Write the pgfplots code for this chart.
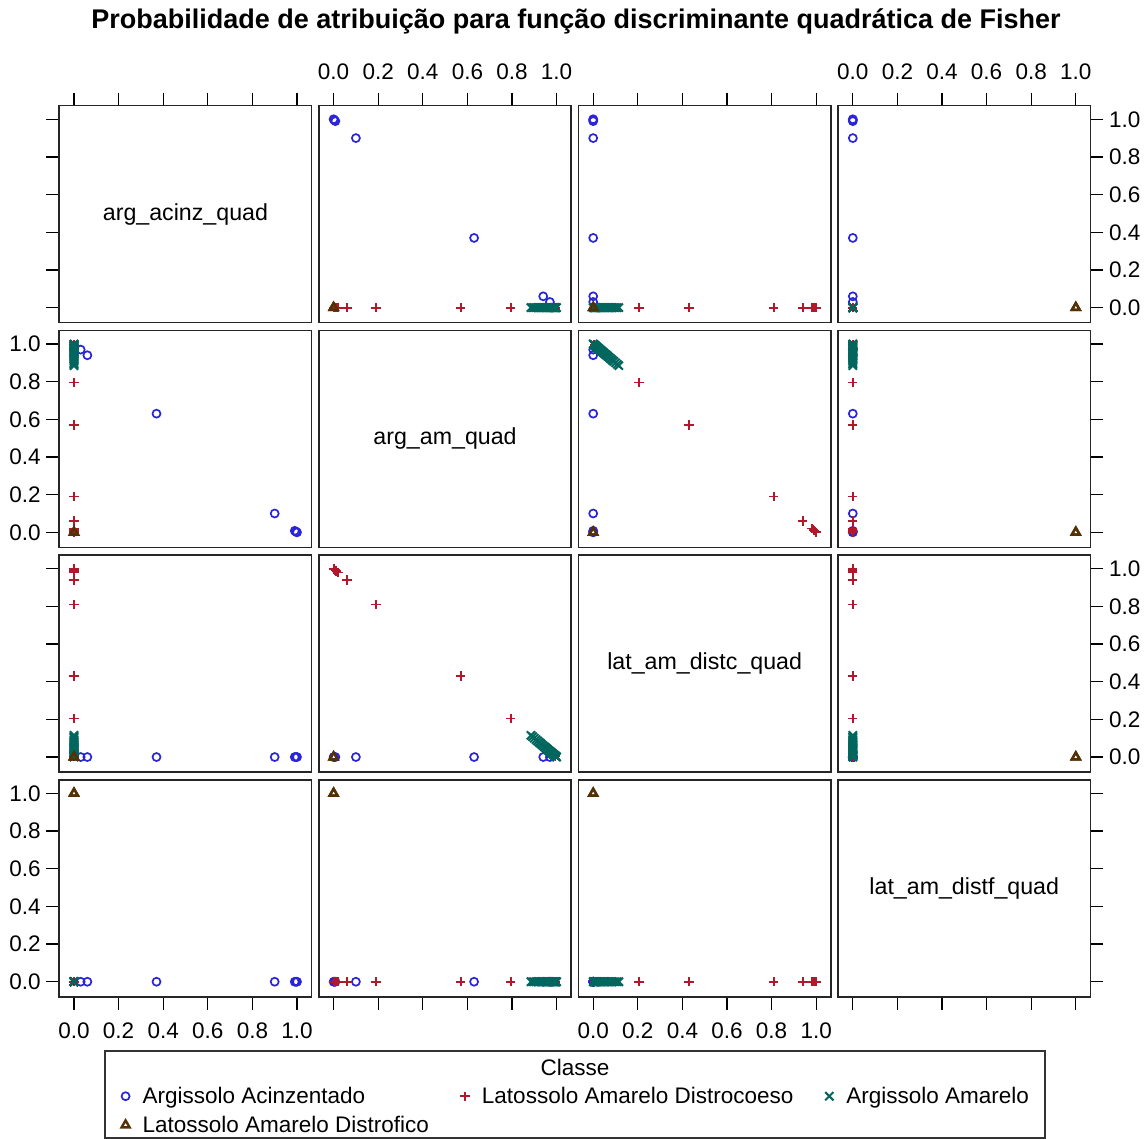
\documentclass[border=0pt]{standalone}
\usepackage{fontspec}
\setmainfont{Liberation Sans}
\usepackage{pgfplots}
\pgfplotsset{compat=1.18}
\usepackage{pgfplotstable}
\usepgfplotslibrary{groupplots}
\usetikzlibrary{calc}

\definecolor{cAA}{HTML}{2A25D9}
\definecolor{cLC}{HTML}{B2182B}
\definecolor{cAM}{HTML}{01665E}
\definecolor{cLF}{HTML}{543005}

% a = arg_acinz_quad, b = arg_am_quad, c = lat_am_distc_quad, d = lat_am_distf_quad
\pgfplotstableread{
a     b     c d
1.000 0.000 0 0
0.996 0.003 0 0
0.990 0.008 0 0
0.900 0.100 0 0
0.370 0.630 0 0
0.060 0.940 0 0
0.030 0.970 0 0
}\tAA
\pgfplotstableread{
a b     c     d
0 0.000 1.000 0
0 0.003 0.997 0
0 0.008 0.992 0
0 0.012 0.988 0
0 0.020 0.980 0
0 0.060 0.940 0
0 0.190 0.810 0
0 0.570 0.430 0
0 0.795 0.205 0
0 0.995 0.005 0
}\tLC
\pgfplotstableread{
a b     c     d
0 1.000 0.000 0
0 0.998 0.002 0
0 0.996 0.004 0
0 0.994 0.006 0
0 0.992 0.008 0
0 0.990 0.010 0
0 0.987 0.013 0
0 0.984 0.016 0
0 0.980 0.020 0
0 0.976 0.024 0
0 0.972 0.028 0
0 0.967 0.033 0
0 0.962 0.038 0
0 0.957 0.043 0
0 0.952 0.048 0
0 0.946 0.054 0
0 0.940 0.060 0
0 0.934 0.066 0
0 0.928 0.072 0
0 0.922 0.078 0
0 0.915 0.085 0
0 0.908 0.092 0
0 0.900 0.100 0
0 0.892 0.108 0
0 0.885 0.115 0
}\tAM
\pgfplotstableread{
a b c d
0 0 0 1
0 0 0 1
}\tLF

\newcommand\tickfont{\fontsize{22.5}{24}\selectfont}
\pgfplotsset{
  sAA/.style={only marks, mark=o, mark size=4pt, color=cAA, mark options={line width=1.7pt}},
  sLC/.style={only marks, mark=+, mark size=4.6pt, color=cLC, mark options={line width=1.8pt}},
  sAM/.style={only marks, mark=x, mark size=5.8pt, color=cAM, mark options={line width=2pt}},
  sLF/.style={only marks, mark=triangle, mark size=4.6pt, color=cLF, mark options={line width=2.4pt}},
  top-lab/.style={xtick pos=right, xticklabel pos=right, xticklabels={0.0,0.2,0.4,0.6,0.8,1.0}},
  top-nolab/.style={xtick pos=right, xticklabels={}},
  bot-lab/.style={xtick pos=left, xticklabel pos=left, xticklabels={0.0,0.2,0.4,0.6,0.8,1.0}},
  bot-nolab/.style={xtick pos=left, xticklabels={}},
  nox/.style={xtick=\empty},
  left-lab/.style={ytick pos=left, yticklabel pos=left, yticklabels={0.0,0.2,0.4,0.6,0.8,1.0}},
  left-nolab/.style={ytick pos=left, yticklabels={}},
  right-lab/.style={ytick pos=right, yticklabel pos=right, yticklabels={0.0,0.2,0.4,0.6,0.8,1.0}},
  right-nolab/.style={ytick pos=right, yticklabels={}},
  noy/.style={ytick=\empty},
}
\newcommand\panel[2]{%
  \addplot[sAA] table[x=#1,y=#2]{\tAA};
  \addplot[sLC] table[x=#1,y=#2]{\tLC};
  \addplot[sAM] table[x=#1,y=#2]{\tAM};
  \addplot[sLF] table[x=#1,y=#2]{\tLF};
}
\newcommand\diag[1]{\node[font=\fontsize{23.2}{25}\selectfont] at (rel axis cs:0.5,0.5) {#1};}

\begin{document}
\begin{tikzpicture}[x=1pt,y=1pt]
\begin{groupplot}[
  group style={group size=4 by 4, horizontal sep=7.3pt, vertical sep=7.7pt},
  width=252.3pt, height=217pt, scale only axis,
  xmin=-0.0659, xmax=1.0655, ymin=-0.08, ymax=1.072,
  xtick={0,0.2,0.4,0.6,0.8,1}, ytick={0,0.2,0.4,0.6,0.8,1},
  tick align=outside, major tick length=13pt,
  tick style={black, line width=1.3pt},
  axis line style={black!85, line width=1.6pt},
  tick label style={font=\tickfont},
  xticklabel style={inner sep=0pt}, yticklabel style={inner sep=0pt},
  xticklabel shift=13pt, yticklabel shift=5.5pt,
]
% row 1
\nextgroupplot[top-nolab, left-nolab]
\diag{arg\_acinz\_quad}
\nextgroupplot[top-lab, noy]
\panel{b}{a}
\nextgroupplot[top-nolab, noy]
\panel{c}{a}
\nextgroupplot[top-lab, right-lab]
\panel{d}{a}
% row 2
\nextgroupplot[nox, left-lab]
\panel{a}{b}
\nextgroupplot[nox, noy]
\diag{arg\_am\_quad}
\nextgroupplot[nox, noy]
\panel{c}{b}
\nextgroupplot[nox, right-nolab]
\panel{d}{b}
% row 3
\nextgroupplot[nox, left-nolab]
\panel{a}{c}
\nextgroupplot[nox, noy]
\panel{b}{c}
\nextgroupplot[nox, noy]
\diag{lat\_am\_distc\_quad}
\nextgroupplot[nox, right-lab]
\panel{d}{c}
% row 4
\nextgroupplot[bot-lab, left-lab]
\panel{a}{d}
\nextgroupplot[bot-nolab, noy]
\panel{b}{d}
\nextgroupplot[bot-lab, noy]
\panel{c}{d}
\nextgroupplot[bot-nolab, right-nolab,
  legend columns=3, legend cell align=left,
  legend style={at={(-2.8446,-0.4161)}, anchor=north west, draw=none, fill=none,
    inner sep=0pt, font=\tickfont, nodes={inner sep=0pt}, row sep=11pt,
    /tikz/every even column/.append style={column sep=31pt}},
  legend image code/.code={\draw[#1] plot coordinates {(5pt,0pt)}; \path[draw=none] (0pt,0pt) -- (22pt,0pt);},
]
\diag{lat\_am\_distf\_quad}
\addlegendimage{sAA}\addlegendentry{Argissolo Acinzentado}
\addlegendimage{sLC}\addlegendentry{Latossolo Amarelo Distrocoeso}
\addlegendimage{sAM}\addlegendentry{Argissolo Amarelo}
\addlegendimage{sLF}\addlegendentry{Latossolo Amarelo Distrofico}
\end{groupplot}
\coordinate (O) at ($(group c1r1.north west)+(-59.3,105.7)$);
\node[anchor=base, font=\fontsize{27}{30}\selectfont\bfseries] at ($(O)+(576,-28.5)$)
  {Probabilidade de atribuição para função discriminante quadrática de Fisher};
\draw[black!80, line width=1.3pt] ($(O)+(105,-1051)$) rectangle ($(O)+(1045,-1138)$);
\node[anchor=base, font=\tickfont] at ($(O)+(575,-1075)$) {Classe};
\pgfresetboundingbox
\path[use as bounding box] (O) rectangle ($(O)+(1148,-1139)$);
\end{tikzpicture}
\end{document}
